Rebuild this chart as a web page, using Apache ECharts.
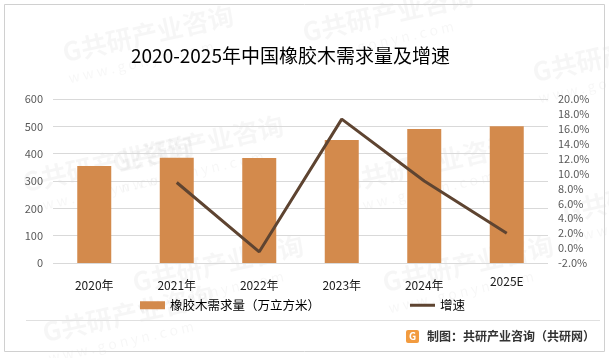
<!DOCTYPE html>
<html>
<head>
<meta charset="utf-8">
<script src="https://cdn.jsdelivr.net/npm/echarts@6/dist/echarts.min.js"></script>
<style>
html,body{margin:0;padding:0;background:#fff;}
#c{width:609px;height:358px;}
</style>
</head>
<body>
<div id="c"></div>
<script>
const categories = ['2020年', '2021年', '2022年', '2023年', '2024年', '2025E'];
const demand = [355, 385, 384, 450, 490, 500];
const growth = ['-', 8.8, -0.5, 17.3, 9.0, 2.0];
const leftTicks = { min: 0, max: 600, interval: 100 };
const rightTicks = { min: -2, max: 20, interval: 2 };
const titleText = '2020-2025年中国橡胶木需求量及增速';
const barName = '橡胶木需求量（万立方米）';
const lineName = '增速';
const footerText = '制图：共研产业咨询（共研网）';

const FONT = '"Noto Sans CJK SC", "Noto Sans", sans-serif';
const chart = echarts.init(document.getElementById('c'), null, { renderer: 'canvas' });

const watermarks = [];
const wmPos = [[60, 40], [300, 20], [530, 60], [20, 170], [110, 150], [340, 170], [560, 200], [130, 270], [380, 270], [40, 320]];
wmPos.forEach(p => {
  watermarks.push({
    type: 'group', x: p[0], y: p[1], rotation: 0.22, silent: true,
    children: [
      { type: 'text', style: { text: 'G共研产业咨询', fontSize: 26, fontWeight: 'bold', fill: 'rgba(0,0,0,0.035)', fontFamily: FONT } },
      { type: 'text', y: 32, style: { text: 'w w w . g o n y n . c o m', fontSize: 14, fill: 'rgba(0,0,0,0.035)', fontFamily: FONT } }
    ]
  });
});

chart.setOption({
  animation: false,
  backgroundColor: '#fff',
  textStyle: { fontFamily: FONT },
  title: {
    text: titleText, left: 126, top: 41,
    textStyle: { fontSize: 19, fontWeight: 'normal', color: '#000', fontFamily: FONT }
  },
  legend: {
    left: 135, top: 294, itemWidth: 25, itemHeight: 8, itemGap: 90,
    textStyle: { fontSize: 12.5, color: '#000', fontFamily: FONT },
    data: [
      { name: barName, icon: 'rect' },
      { name: lineName, icon: 'path://M0,0 L25,0 L25,3 L0,3 Z' }
    ]
  },
  grid: { left: 53, right: 61, top: 99, bottom: 95 },
  xAxis: {
    type: 'category', data: categories,
    axisLine: { show: false }, axisTick: { show: false },
    axisLabel: {
      margin: 12, fontSize: 12, color: '#1a1a1a',
      formatter: v => v.indexOf('E') >= 0 ? '{e|' + v + '}' : '{n|' + v + '}',
      rich: { n: { padding: [4, 0, 0, 0], fontSize: 12, color: '#1a1a1a' }, e: { padding: [0, 0, 0, 0], fontSize: 12, color: '#1a1a1a' } }
    }
  },
  yAxis: [
    {
      type: 'value', min: leftTicks.min, max: leftTicks.max, interval: leftTicks.interval,
      axisLine: { show: false }, axisTick: { show: false },
      axisLabel: { margin: 10, fontSize: 11, color: '#595959' },
      splitLine: { lineStyle: { color: '#d9d9d9', width: 1 } }
    },
    {
      type: 'value', min: rightTicks.min, max: rightTicks.max, interval: rightTicks.interval,
      axisLine: { show: false }, axisTick: { show: false }, splitLine: { show: false },
      axisLabel: { margin: 10, fontSize: 11, color: '#595959', formatter: v => v.toFixed(1) + '%' }
    }
  ],
  series: [
    {
      name: barName, type: 'bar', data: demand, barWidth: 34,
      itemStyle: { color: '#D38A4C' }
    },
    {
      name: lineName, type: 'line', yAxisIndex: 1, data: growth,
      symbol: 'none', lineStyle: { color: '#5E4431', width: 3 }, itemStyle: { color: '#5E4431' }
    }
  ],
  graphic: watermarks.concat([
    { type: 'rect', silent: true, shape: { x: 4.5, y: 4.5, width: 600, height: 347 }, style: { fill: 'none', stroke: '#d0d0d0', lineWidth: 1 } },
    { type: 'line', silent: true, shape: { x1: 26, y1: 320.5, x2: 600, y2: 320.5 }, style: { stroke: '#e0e0e0', lineWidth: 1 } },
    { type: 'rect', silent: true, shape: { x: 406, y: 330, width: 13, height: 13, r: 2 }, style: { fill: '#F29B3F' } },
    { type: 'text', silent: true, x: 412.5, y: 336.5, style: { text: 'G', fontSize: 10, fontWeight: 'bold', fill: '#fff', align: 'center', verticalAlign: 'middle', fontFamily: FONT } },
    { type: 'text', silent: true, x: 427, y: 336, style: { text: footerText, fontSize: 12, fontWeight: 'bold', fill: '#333', verticalAlign: 'middle', fontFamily: FONT } }
  ])
});
</script>
</body>
</html>
